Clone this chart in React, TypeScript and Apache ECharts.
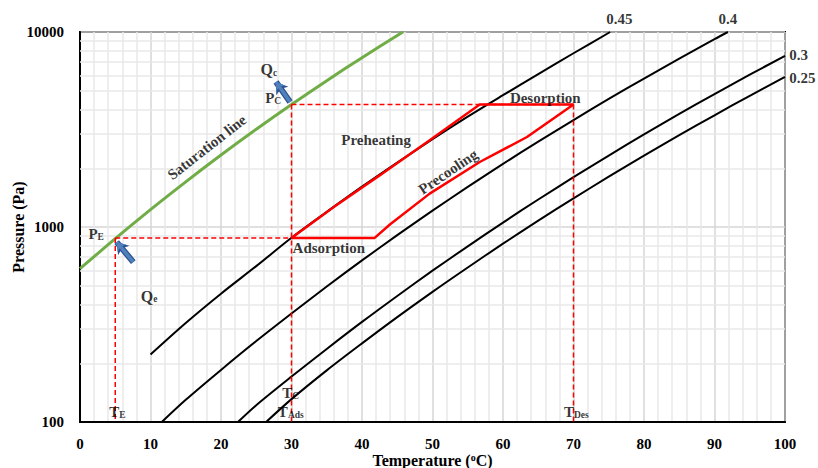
import React, { useEffect, useRef } from 'react';
import * as echarts from 'echarts';

const FONT = "'Liberation Serif', 'Times New Roman', serif";

// Saturation line (water)
const satT = [0, 5, 10, 15, 20, 25, 30, 35, 40, 45, 45.8];
const satP = [611, 872, 1228, 1705, 2339, 3169, 4246, 5628, 7384, 9593, 10000];

// Isosteres
const iso045T = [10, 15, 20, 25, 30, 35, 40, 45, 50, 55, 60, 65, 70, 75.2];
const iso045P = [222, 322, 455, 630, 880, 1195, 1610, 2140, 2820, 3680, 4740, 6080, 7780, 10000];
const iso040T = [11.6, 15, 20, 25, 30, 35, 40, 45, 50, 55, 60, 65, 70, 75, 80, 85, 90, 91.9];
const iso040P = [100, 130, 185, 260, 360, 495, 674, 908, 1213, 1606, 2107, 2740, 3535, 4536, 5774, 7304, 9190, 10000];
const iso030T = [22.4, 25, 30, 35, 40, 45, 50, 55, 60, 65, 70, 75, 80, 85, 90, 95, 100];
const iso030P = [100, 122, 171, 237, 326, 443, 597, 796, 1054, 1384, 1800, 2323, 2985, 3802, 4808, 6039, 7551];
const iso025T = [26.4, 30, 35, 40, 45, 50, 55, 60, 65, 70, 75, 80, 85, 90, 95, 100];
const iso025P = [100, 131, 184, 253, 345, 465, 620, 821, 1078, 1402, 1811, 2323, 2958, 3741, 4710, 5888];

// Cycle (Adsorption -> Preheating -> Desorption -> Precooling -> Adsorption)
const cycleT = [30, 36, 42.6, 49.6, 56.7, 70, 63.4, 56.7, 49.6, 44.0, 41.8, 30];
const cycleP = [879, 1265, 1850, 2786, 4250, 4250, 2894, 2154, 1483, 1033, 879, 879];

// Reference temperatures / pressures
const tE = 5;
const tAds = 30;
const tDes = 70;
const pE = 879;
const pC = 4250;

// Axes
const xMin = 0;
const xMax = 100;
const yTicks = [100, 1000, 10000];
const yMinorGrid = [200, 300, 400, 500, 600, 700, 800, 900, 2000, 3000, 4000, 5000, 6000, 7000, 8000, 9000];

// Text annotations (anchor in data coordinates)
const annotations = [
  { text: '0.45', t: 76.5, p: 11650 },
  { text: '0.4', t: 91.9, p: 11650 },
  { text: '0.3', t: 100.6, p: 7590, align: 'left' },
  { text: '0.25', t: 100.6, p: 5790, align: 'left' },
  { text: 'Saturation line', t: 18.0, p: 2565, rotate: 38 },
  { text: '{q|Q}{s|c}', t: 26.8, p: 6400 },
  { text: '{m|P}{s|C}', t: 27.4, p: 4571 },
  { text: '{m|P}{s|E}', t: 2.3, p: 918 },
  { text: '{q|Q}{s|e}', t: 9.8, p: 441 },
  { text: 'Preheating', t: 42.0, p: 2786 },
  { text: 'Desorption', t: 66.0, p: 4600 },
  { text: 'Precooling', t: 52.2, p: 1920, rotate: 34 },
  { text: 'Adsorption', t: 35.3, p: 778 },
  { text: '{m|T}{s|E}', t: 5.3, p: 112 },
  { text: '{m|T}{s|C}', t: 29.9, p: 141 },
  { text: '{m|T}{s|Ads}', t: 29.9, p: 113 },
  { text: '{m|T}{s|Des}', t: 70.4, p: 113 },
];

// Heat-flow arrows (tail -> tip)
const arrows = [
  { t0: 29.8, p0: 4375, t1: 27.8, p1: 5546 },
  { t0: 7.56, p0: 661, t1: 5.2, p1: 837 },
];

const zip = (a: number[], b: number[]) => a.map((v, i) => [v, b[i]]);

export default function App() {
  const ref = useRef<HTMLDivElement>(null);
  useEffect(() => {
    if (!ref.current) return;
    const chart = echarts.init(ref.current, undefined, { renderer: 'svg' });
    const black = (name: string, T: number[], P: number[]) => ({
      name,
      type: 'line',
      data: zip(T, P),
      showSymbol: false,
      symbol: 'none',
      smooth: 0.3,
      lineStyle: { color: '#000', width: 2 },
      z: 3,
    });
    const dashed = (pts: number[][]) => ({
      type: 'line',
      data: pts,
      symbol: 'none',
      lineStyle: { color: '#ff0000', width: 1.5, type: [5, 3] },
      z: 4,
    });
    const textBase = { fontFamily: FONT, fontWeight: 'bold', color: '#000' };
    chart.setOption({
      animation: false,
      grid: {
        left: 80, right: 33, top: 32, bottom: 46,
        outerBoundsMode: 'none', containLabel: false,
        show: true, borderColor: '#000', borderWidth: 2, backgroundColor: 'transparent',
      },
      xAxis: {
        type: 'value',
        min: xMin,
        max: xMax,
        interval: 10,
        name: 'Temperature ({sup|o}C)',
        nameLocation: 'middle',
        nameGap: 30,
        nameMoveOverlap: false,
        nameTextStyle: { ...textBase, fontSize: 16, rich: { sup: { ...textBase, fontSize: 10, verticalAlign: 'top', lineHeight: 8 } } },
        axisLine: { show: true, lineStyle: { color: '#000', width: 2 } },
        axisTick: { show: false },
        axisLabel: { ...textBase, fontSize: 15, margin: 14 },
        splitLine: { show: true, lineStyle: { color: '#d6d6d6', width: 1.5 } },
        minorTick: { show: false, splitNumber: 5 },
        minorSplitLine: { show: true, lineStyle: { color: '#e8e8e8', width: 1.5 } },
      },
      yAxis: {
        type: 'log',
        logBase: 10,
        min: yTicks[0],
        max: yTicks[yTicks.length - 1],
        name: 'Pressure (Pa)',
        nameLocation: 'middle',
        nameGap: 54,
        nameMoveOverlap: false,
        nameTextStyle: { ...textBase, fontSize: 16 },
        axisLine: { show: true, lineStyle: { color: '#000', width: 2 } },
        axisTick: { show: false },
        axisLabel: { ...textBase, fontSize: 15, margin: 16, formatter: (v: number) => String(Math.round(v)) },
        splitLine: { show: true, lineStyle: { color: '#d6d6d6', width: 1.5 } },
      },
      series: [
        {
          name: 'Saturation line',
          type: 'line',
          data: zip(satT, satP),
          symbol: 'none',
          smooth: 0.3,
          lineStyle: { color: '#70ad47', width: 3 },
          z: 3,
          markLine: {
            silent: true,
            symbol: ['none', 'none'],
            label: { show: false },
            z: 1,
            lineStyle: { color: '#e8e8e8', width: 1.5, type: 'solid' },
            data: yMinorGrid.map((v) => ({ yAxis: v })),
          },
        },
        black('0.45', iso045T, iso045P),
        black('0.4', iso040T, iso040P),
        black('0.3', iso030T, iso030P),
        black('0.25', iso025T, iso025P),
        dashed([[tAds, pC], [tAds, yTicks[0]]]),
        dashed([[tDes, pC], [tDes, yTicks[0]]]),
        dashed([[tAds, pC], [tDes, pC]]),
        dashed([[tE, pE], [tAds, pE]]),
        dashed([[tE, pE], [tE, yTicks[0]]]),
        {
          name: 'cycle',
          type: 'line',
          data: zip(cycleT, cycleP),
          symbol: 'none',
          lineStyle: { color: '#ff0000', width: 2.5 },
          z: 5,
        },
        {
          type: 'lines',
          coordinateSystem: 'cartesian2d',
          symbol: ['none', 'arrow'],
          symbolSize: 11,
          silent: true,
          lineStyle: { color: '#2f528f', width: 6, opacity: 1, curveness: 0 },
          data: arrows.map((a) => ({ coords: [[a.t0, a.p0], [a.t1, a.p1]] })),
          z: 7,
        },
        {
          type: 'lines',
          coordinateSystem: 'cartesian2d',
          symbol: ['none', 'arrow'],
          symbolSize: 8,
          silent: true,
          lineStyle: { color: '#4f81bd', width: 3.5, opacity: 1, curveness: 0 },
          data: arrows.map((a) => ({ coords: [[a.t0, a.p0], [a.t1, a.p1]] })),
          z: 8,
        },
        {
          type: 'scatter',
          symbolSize: 1,
          clip: false,
          silent: true,
          itemStyle: { color: 'transparent' },
          z: 10,
          data: annotations.map((a) => ({
            value: [a.t, a.p],
            label: {
              show: true,
              formatter: a.text,
              rotate: a.rotate || 0,
              align: (a as any).align || 'center',
            },
          })),
          label: {
            show: true,
            position: 'inside',
            verticalAlign: 'middle',
            ...textBase,
            fontSize: 15,
            rich: {
              m: { ...textBase, fontSize: 15, lineHeight: 16 },
              q: { ...textBase, fontSize: 16, lineHeight: 16 },
              s: { ...textBase, fontSize: 9.5, lineHeight: 6, verticalAlign: 'bottom' },
            },
          },
        },
      ],
    });
    return () => chart.dispose();
  }, []);
  return <div ref={ref} style={{ position: 'fixed', left: 0, top: 0, width: 818, height: 468, background: '#fff' }} />;
}
